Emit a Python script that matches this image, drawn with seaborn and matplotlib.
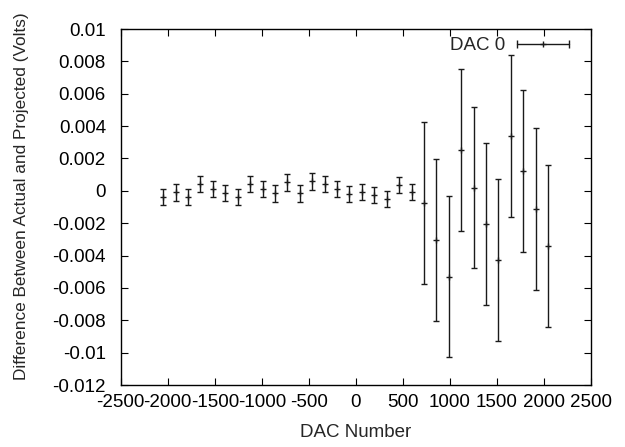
import matplotlib
matplotlib.use("Agg")
import matplotlib.pyplot as plt
from matplotlib.lines import Line2D
from matplotlib.legend_handler import HandlerLine2D
import pandas as pd
import seaborn as sns

# DAC codes that were measured
dac_codes = [-2048, -1916, -1784, -1652, -1520, -1388, -1256, -1124, -992, -860,
             -728, -596, -464, -332, -200, -68, 64, 196, 328, 460,
             592, 724, 856, 988, 1120, 1252, 1384, 1516, 1648, 1780,
             1912, 2044]

# Mean difference between the measured and projected output (V)
difference = [-0.0004, -0.0001, -0.00036, 0.00042, 0.0001, -0.00012, -0.0004, 0.0004,
              0.0001, -0.00016, 0.00052, -0.00016, 0.00058, 0.00042, 0.0001, -0.0002,
              -0.00005, -0.00028, -0.00053, 0.00036, -0.00005,
              -0.00074, -0.00302, -0.0053, 0.0025, 0.0002, -0.00205, -0.0043,
              0.0034, 0.0012, -0.0011, -0.0034]

# Uncertainty of each difference (V)
uncertainty = [0.0005] * 21 + [0.005] * 11

x_ticks = [-2500, -2000, -1500, -1000, -500, 0, 500, 1000, 1500, 2000, 2500]
y_ticks = [0.01, 0.008, 0.006, 0.004, 0.002, 0, -0.002, -0.004, -0.006,
           -0.008, -0.01, -0.012]
y_tick_labels = ["0.01", "0.008", "0.006", "0.004", "0.002", "0", "-0.002",
                 "-0.004", "-0.006", "-0.008", "-0.01", "-0.012"]

FS = 13.5

sns.set_theme(style="ticks")
plt.rcParams["font.family"] = ["Liberation Sans", "DejaVu Sans"]
plt.rcParams["font.size"] = FS

df = pd.DataFrame({"dac": dac_codes, "diff": difference, "err": uncertainty})

fig = plt.figure(figsize=(6.25, 4.47), dpi=100)
ax = fig.add_axes([0.1931, 0.1387, 0.7525, 0.7964])

ax.errorbar(df["dac"], df["diff"], yerr=df["err"], fmt="none",
            ecolor="#1a1a1a", elinewidth=1.0, capsize=2.3, capthick=1.0,
            zorder=2)
sns.scatterplot(data=df, x="dac", y="diff", marker="+", s=22,
                color="#1a1a1a", linewidth=1.0, ax=ax, legend=False, zorder=3)

ax.set_xlim(-2500, 2500)
ax.set_ylim(-0.012, 0.01)
ax.set_xticks(x_ticks)
ax.set_xticklabels([f"{t:g}" for t in x_ticks])
ax.set_yticks(y_ticks)
ax.set_yticklabels(y_tick_labels)
ax.tick_params(axis="both", direction="in", length=5, width=0.8,
               top=True, right=True, colors="black", labelsize=FS)
ax.tick_params(axis="y", pad=10.6)
ax.tick_params(axis="x", pad=6.8)
for sp in ax.spines.values():
    sp.set_linewidth(1.0)
    sp.set_color("black")

ax.set_xlabel("DAC Number", fontsize=FS)
ax.set_ylabel("Difference Between Actual and Projected (Volts)", fontsize=12.4)
ax.xaxis.set_label_coords(0.5, -0.1087)
ax.yaxis.set_label_coords(-0.195, 0.531)

# key entry: horizontal bar with end caps and a centre mark
caps = Line2D([], [], color="#1a1a1a", lw=1.0, marker="|", markersize=6,
              markeredgewidth=1.0)
centre = Line2D([], [], color="#1a1a1a", lw=0, marker="+", markersize=5,
                markeredgewidth=1.0)
ax.legend([(caps, centre)], ["DAC 0"], loc="upper right",
          bbox_to_anchor=(0.9651, 0.977), frameon=False,
          markerfirst=False, handlelength=3.36, handletextpad=0.34,
          borderaxespad=0, borderpad=0, fontsize=FS,
          handler_map={caps: HandlerLine2D(numpoints=2),
                       centre: HandlerLine2D(numpoints=1)})

fig.savefig("out.png", dpi=100)
